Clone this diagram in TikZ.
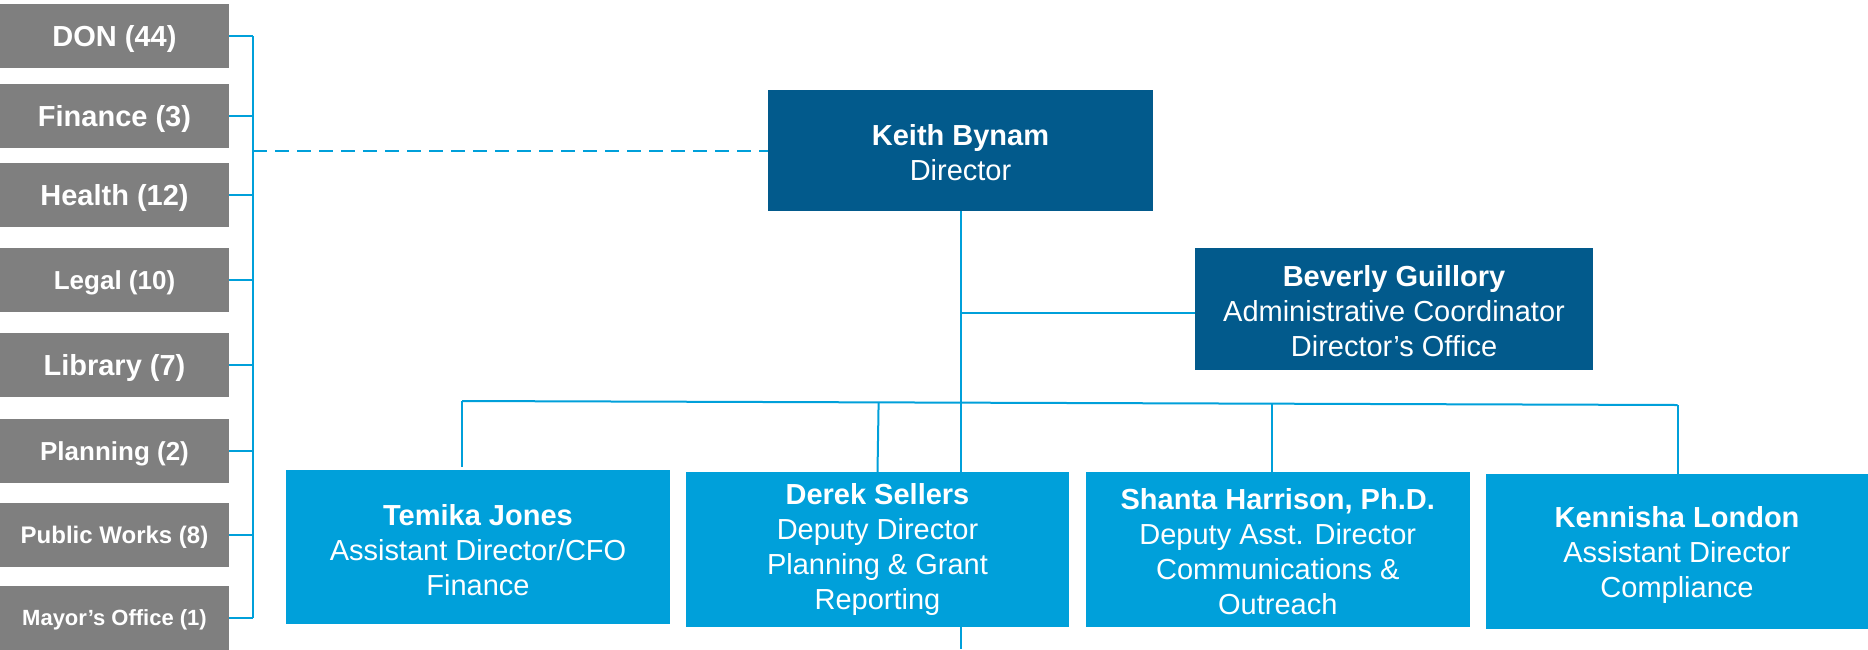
\documentclass[tikz,border=0pt]{standalone}
\usepackage{fontspec}
\setmainfont{Liberation Sans}
\usetikzlibrary{backgrounds}
\definecolor{dkblue}{RGB}{2,90,140}
\definecolor{ltblue}{RGB}{0,160,218}
\definecolor{boxgray}{RGB}{127,127,127}
\definecolor{linecol}{RGB}{0,160,218}
\begin{document}
\begin{tikzpicture}[x=1pt,y=-1pt,
  graybox/.style={fill=boxgray, text=white, minimum width=229pt, minimum height=64pt, inner sep=0pt, anchor=center, text depth=0pt},
  gfont/.style={font=\fontsize{#1}{#1}\selectfont\bfseries},
  dkbox/.style={fill=dkblue, inner sep=0pt, anchor=center},
  ltbox/.style={fill=ltblue, inner sep=0pt, anchor=center},
  boxtext/.style={text=white, align=center, inner sep=0pt, anchor=center, font=\fontsize{29}{35}\selectfont},
  conn/.style={draw=linecol, line width=2pt}]
\useasboundingbox (0,0) rectangle (1868,649);

% left gray boxes
\node[graybox, gfont=29] (g1) at (114.5,36)  {DON (44)};
\node[graybox, gfont=29] (g2) at (114.5,116) {Finance (3)};
\node[graybox, gfont=29] (g3) at (114.5,195) {Health (12)};
\node[graybox, gfont=26] (g4) at (114.5,280) {Legal (10)};
\node[graybox, gfont=29] (g5) at (114.5,365) {Library (7)};
\node[graybox, gfont=26] (g6) at (114.5,451) {Planning (2)};
\node[graybox, gfont=24] (g7) at (114.5,535) {Public Works (8)};
\node[graybox, gfont=22] (g8) at (114.5,618) {Mayor’s Office (1)};

% blue boxes
\node[dkbox, minimum width=385pt, minimum height=121pt] (keith) at (960.5,150.5) {};
\node[dkbox, minimum width=398pt, minimum height=122pt] (bev) at (1394,309) {};
\node[ltbox, minimum width=384pt, minimum height=154pt] (tem) at (478,547) {};
\node[ltbox, minimum width=383pt, minimum height=155pt] (der) at (877.5,549.5) {};
\node[ltbox, minimum width=384.5pt, minimum height=155pt] (sha) at (1277.75,549.5) {};
\node[ltbox, minimum width=382pt, minimum height=155pt] (ken) at (1677,551.5) {};

% box texts
\node[boxtext, yshift=-2.5pt] (keithT) at (keith) {\textbf{Keith Bynam}\\Director};
\node[boxtext, yshift=-2.5pt] (bevT) at (bev) {\textbf{Beverly Guillory}\\Administrative Coordinator\\Director’s Office};
\node[boxtext, yshift=-3pt] (temT) at (tem) {\textbf{Temika Jones}\\Assistant Director/CFO\\Finance};
\node[boxtext] (derT) at (der) {\textbf{Derek Sellers}\\Deputy Director\\Planning \& Grant\\Reporting};
\node[boxtext, yshift=-2.5pt] (shaT) at (sha) {\textbf{Shanta Harrison, Ph.D.}\\Deputy Asst. Director\\Communications \&\\Outreach};
\node[boxtext, yshift=-3pt] (kenT) at (ken) {\textbf{Kennisha London}\\Assistant Director\\Compliance};

% coordinates
\coordinate (brx) at (253,0);
\coordinate (kbot) at (960.5,649);
\coordinate (bevJ) at (960.5,313);
\coordinate (busL) at (462,401);
\coordinate (busR) at (1677.5,405);
\coordinate (bD) at (878.6,402.8);
\coordinate (bS) at (1271.7,404.1);
\coordinate (tTop) at (462,467);
\coordinate (sTop) at (1271.7,472);

\begin{scope}[on background layer]
  \foreach \g in {g1,g2,g3,g4,g5,g6,g7,g8}
    \draw[conn] (\g.east) -- (\g.east -| brx);
  \draw[conn] (g1.east -| brx) -- (g8.east -| brx);
  \draw[conn, dash pattern=on 14pt off 8pt] (keith.west -| brx) -- (keith.west);
  \draw[conn] (keith.south) -- (kbot);
  \draw[conn] (bevJ) -- (bev.west |- bevJ);
  \draw[conn] (busL) -- (busR);
  \draw[conn] (busL) -- (tTop);
  \draw[conn] (bD) -- (der.north);
  \draw[conn] (bS) -- (sTop);
  \draw[conn] (busR) -- (busR |- ken.north);
\end{scope}
\end{tikzpicture}
\end{document}
